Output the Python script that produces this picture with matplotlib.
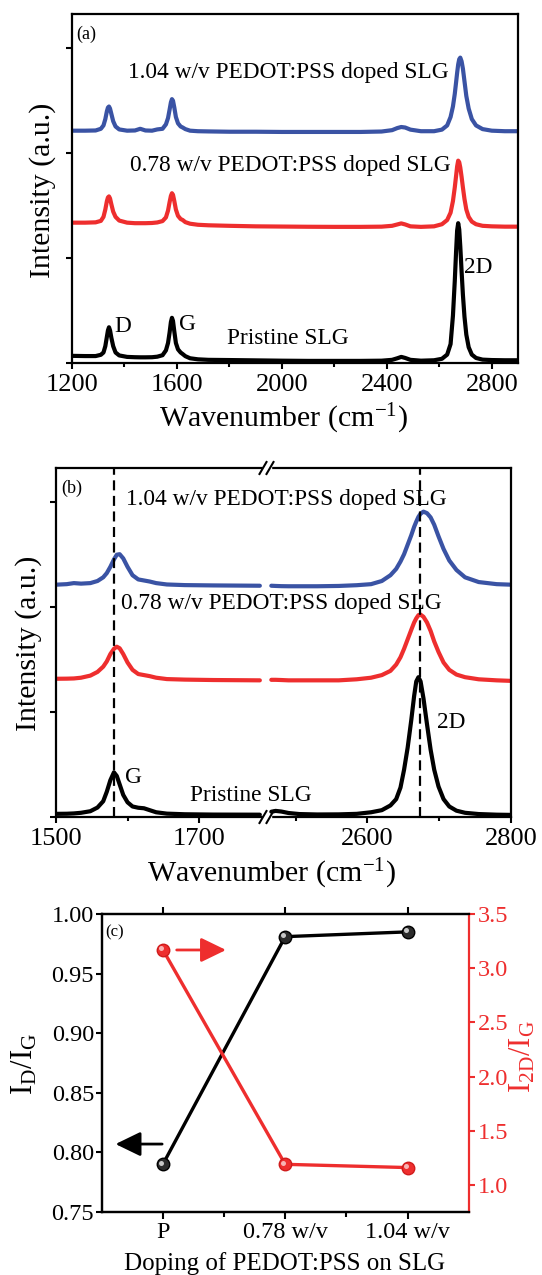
import numpy as np
import matplotlib
matplotlib.use('Agg')
import matplotlib.pyplot as plt
import matplotlib.transforms as mtransforms
from matplotlib.lines import Line2D
from matplotlib.patches import Rectangle
from matplotlib.ticker import FixedLocator, FormatStrFormatter

plt.rcParams['font.family'] = ['Liberation Serif', 'DejaVu Serif']
plt.rcParams['mathtext.fontset'] = 'custom'
plt.rcParams['mathtext.rm'] = 'Liberation Serif'
plt.rcParams['mathtext.it'] = 'Liberation Serif:italic'
plt.rcParams['mathtext.default'] = 'regular'

RED = '#EE2E2E'
BLUE = '#3A53A4'

# ---------------- panel (a): full Raman spectra ----------------
wn_a = [1200, 1250, 1290, 1310, 1320,
        1327, 1333, 1337, 1341, 1345,
        1350, 1357, 1366, 1380, 1410,
        1440, 1460, 1480, 1505, 1525,
        1545, 1558, 1566, 1572, 1577,
        1581, 1585, 1590, 1596, 1604,
        1614, 1622, 1632, 1650, 1680,
        1720, 1800, 1900, 2000, 2100,
        2200, 2300, 2380, 2420, 2440,
        2455, 2470, 2490, 2530, 2580,
        2610, 2630, 2643, 2652, 2659,
        2664, 2668, 2672, 2676, 2680,
        2685, 2690, 2696, 2703, 2712,
        2724, 2740, 2765, 2800, 2850,
        2900]
pristine_a = [0.068, 0.066, 0.066, 0.078, 0.10,
              0.16, 0.25, 0.31, 0.34, 0.31,
              0.24, 0.16, 0.10, 0.072, 0.058,
              0.055, 0.054, 0.054, 0.055, 0.060,
              0.074, 0.12, 0.19, 0.29, 0.39,
              0.43, 0.40, 0.30, 0.19, 0.13,
              0.10, 0.085, 0.065, 0.045, 0.035,
              0.030, 0.028, 0.025, 0.022, 0.020,
              0.020, 0.020, 0.022, 0.030, 0.045,
              0.058, 0.048, 0.030, 0.022, 0.026,
              0.040, 0.08, 0.18, 0.45, 0.78,
              1.06, 1.26, 1.33, 1.27, 1.11,
              0.87, 0.65, 0.44, 0.27, 0.15,
              0.08, 0.048, 0.032, 0.028, 0.026,
              0.026]
doped078_a = [1.335, 1.335, 1.338, 1.352, 1.39,
              1.46, 1.54, 1.575, 1.585, 1.565,
              1.51, 1.44, 1.39, 1.355, 1.335,
              1.33, 1.33, 1.33, 1.332, 1.337,
              1.35, 1.385, 1.45, 1.53, 1.59,
              1.615, 1.60, 1.54, 1.46, 1.40,
              1.37, 1.36, 1.34, 1.325, 1.315,
              1.31, 1.305, 1.30, 1.298, 1.296,
              1.295, 1.295, 1.297, 1.305, 1.318,
              1.328, 1.318, 1.30, 1.295, 1.30,
              1.32, 1.36, 1.43, 1.54, 1.67,
              1.78, 1.87, 1.925, 1.91, 1.86,
              1.77, 1.67, 1.56, 1.46, 1.39,
              1.345, 1.32, 1.305, 1.30, 1.297,
              1.297]
doped104_a = [2.21, 2.21, 2.212, 2.228, 2.26,
              2.32, 2.395, 2.43, 2.44, 2.42,
              2.37, 2.30, 2.25, 2.222, 2.21,
              2.212, 2.228, 2.212, 2.21, 2.222,
              2.228, 2.27, 2.33, 2.41, 2.48,
              2.51, 2.495, 2.43, 2.34, 2.28,
              2.25, 2.24, 2.225, 2.21, 2.205,
              2.203, 2.20, 2.20, 2.198, 2.198,
              2.198, 2.198, 2.202, 2.215, 2.235,
              2.245, 2.24, 2.22, 2.205, 2.205,
              2.22, 2.26, 2.34, 2.44, 2.56,
              2.67, 2.76, 2.84, 2.89, 2.905,
              2.87, 2.80, 2.68, 2.54, 2.42,
              2.32, 2.26, 2.225, 2.21, 2.205,
              2.205]

# ---------------- panel (b): zoom on G and 2D (broken axis) ----------------
wn_b_low = [1500, 1515, 1525, 1535, 1548, 1558, 1566, 1571, 1576, 1581,
            1585, 1589, 1594, 1600, 1607, 1615, 1623, 1631, 1640, 1655,
            1680, 1720, 1785]
pristine_b_low = [0.030, 0.031, 0.034, 0.040, 0.055, 0.09, 0.15, 0.24, 0.35, 0.425,
                  0.39, 0.31, 0.21, 0.14, 0.10, 0.088, 0.083, 0.065, 0.045, 0.032,
                  0.026, 0.023, 0.022]
doped078_b_low = [1.315, 1.316, 1.318, 1.325, 1.345, 1.38, 1.43, 1.48, 1.55, 1.60,
                  1.62, 1.605, 1.55, 1.47, 1.40, 1.36, 1.35, 1.34, 1.325, 1.312,
                  1.307, 1.303, 1.30]
doped104_b_low = [2.21, 2.215, 2.225, 2.22, 2.225, 2.245, 2.28, 2.32, 2.38, 2.45,
                  2.495, 2.50, 2.46, 2.38, 2.30, 2.26, 2.25, 2.24, 2.225, 2.212,
                  2.206, 2.203, 2.20]

wn_b_high = [2466, 2472, 2480, 2490, 2505, 2530, 2560, 2585, 2605, 2620,
             2632, 2640, 2646, 2651, 2656, 2661, 2665, 2668, 2671, 2674,
             2678, 2683, 2688, 2693, 2699, 2706, 2714, 2724, 2736, 2755,
             2780, 2800]
pristine_b_high = [0.050, 0.058, 0.052, 0.038, 0.028, 0.024, 0.025, 0.030, 0.045, 0.065,
                   0.11, 0.17, 0.28, 0.45, 0.66, 0.92, 1.15, 1.29, 1.33, 1.29,
                   1.13, 0.88, 0.64, 0.45, 0.29, 0.17, 0.10, 0.06, 0.04, 0.028,
                   0.022, 0.020]
doped078_b_high = [1.305, 1.305, 1.303, 1.30, 1.30, 1.30, 1.30, 1.31, 1.325, 1.35,
                   1.39, 1.45, 1.52, 1.60, 1.69, 1.78, 1.85, 1.89, 1.92, 1.925,
                   1.905, 1.85, 1.77, 1.67, 1.57, 1.47, 1.40, 1.355, 1.33, 1.31,
                   1.30, 1.295]
doped104_b_high = [2.20, 2.198, 2.196, 2.195, 2.195, 2.195, 2.198, 2.205, 2.215, 2.245,
                   2.30, 2.36, 2.43, 2.50, 2.59, 2.68, 2.76, 2.81, 2.855, 2.885,
                   2.905, 2.89, 2.85, 2.78, 2.67, 2.55, 2.44, 2.35, 2.28, 2.235,
                   2.215, 2.21]
g_line = 1581
twod_line = 2673

# ---------------- panel (c): intensity ratios ----------------
doping = ['P', '0.78 w/v', '1.04 w/v']
id_ig = [0.790, 0.981, 0.985]
i2d_ig = [3.17, 1.19, 1.16]

W, H = 542, 1275
fig = plt.figure(figsize=(W / 100, H / 100), dpi=100)


def px_axes(left, top, right, bottom):
    # axes rectangle from pixel edges (y measured from top)
    ax = fig.add_axes([left / W, 1 - bottom / H, (right - left) / W, (bottom - top) / H])
    ax.set_facecolor('none')
    return ax


def fig_text(x, y, s, **kw):
    fig.text(x / W, 1 - y / H, s, **kw)


def style_spectrum(ax):
    for s in ax.spines.values():
        s.set_linewidth(1.6)
    ax.tick_params(which='both', direction='out', width=1.5, labelsize=19, pad=3.5)
    ax.tick_params(which='major', length=4.5)
    ax.tick_params(which='minor', length=3)
    ax.tick_params(axis='y', labelleft=False)
    ax.set_ylim(0, 3.32)
    ax.yaxis.set_major_locator(FixedLocator([0, 1, 2, 3]))


line_kw = dict(lw=3.0, solid_joinstyle='round', solid_capstyle='round')
txt_kw = dict(fontsize=16.8, va='baseline', zorder=10)

# ---- (a) ----
ax_a = px_axes(72, 14, 518, 363)
style_spectrum(ax_a)
ax_a.plot(wn_a, pristine_a, color='black', **line_kw)
ax_a.plot(wn_a, doped078_a, color=RED, **line_kw)
ax_a.plot(wn_a, doped104_a, color=BLUE, **line_kw)
ax_a.set_xlim(1200, 2900)
ax_a.xaxis.set_major_locator(FixedLocator([1200, 1600, 2000, 2400, 2800]))
ax_a.xaxis.set_minor_locator(FixedLocator([1400, 1800, 2200, 2600]))
ax_a.text(1215, 3.08, '(a)', fontsize=13, va='baseline')
ax_a.text(2023, 2.71, '1.04 w/v PEDOT:PSS doped SLG', ha='center', **txt_kw)
ax_a.text(2033, 1.83, '0.78 w/v PEDOT:PSS doped SLG', ha='center', **txt_kw)
ax_a.text(1394, 0.295, 'D', ha='center', **txt_kw)
ax_a.text(1641, 0.31, 'G', ha='center', **txt_kw)
ax_a.text(2748, 0.857, '2D', ha='center', **txt_kw)
ax_a.text(2021, 0.18, 'Pristine SLG', ha='center', **txt_kw)
fig_text(283, 427, 'Wavenumber (cm$^{-1}$)', ha='center', va='baseline', fontsize=21.5)
fig_text(43, 190, 'Intensity (a.u.)', ha='center', va='center', rotation=90, fontsize=21.5)

# ---- (b) broken x axis ----
ax_bl = px_axes(56, 468, 267, 817)
ax_br = px_axes(267, 468, 511, 817)
for ax in (ax_bl, ax_br):
    style_spectrum(ax)
ax_bl.spines['right'].set_visible(False)
ax_br.spines['left'].set_visible(False)
ax_br.tick_params(axis='y', left=False)

ax_bl.plot(wn_b_low, pristine_b_low, color='black', **line_kw)
ax_bl.plot(wn_b_low, doped078_b_low, color=RED, **line_kw)
ax_bl.plot(wn_b_low, doped104_b_low, color=BLUE, **line_kw)
ax_br.plot(wn_b_high, pristine_b_high, color='black', **line_kw)
ax_br.plot(wn_b_high, doped078_b_high, color=RED, **line_kw)
ax_br.plot(wn_b_high, doped104_b_high, color=BLUE, **line_kw)
ax_bl.axvline(g_line, color='black', lw=1.6, dashes=(4.5, 2.5))
ax_br.axvline(twod_line, color='black', lw=1.6, dashes=(4.5, 2.5))

ax_bl.set_xlim(1500, 1795)
ax_br.set_xlim(2460, 2800)
ax_bl.xaxis.set_major_locator(FixedLocator([1500, 1700]))
ax_bl.xaxis.set_minor_locator(FixedLocator([1600]))
ax_br.xaxis.set_major_locator(FixedLocator([2600, 2800]))
ax_br.xaxis.set_minor_locator(FixedLocator([2500, 2700]))

# texts spanning the break go on the figure layer so nothing covers them
ax_bl.text(1508, 3.08, '(b)', fontsize=13, va='baseline')
fig_text(126, 505, '1.04 w/v PEDOT:PSS doped SLG', ha='left', **txt_kw)
fig_text(121, 609, '0.78 w/v PEDOT:PSS doped SLG', ha='left', **txt_kw)
ax_bl.text(1608, 0.32, 'G', ha='center', **txt_kw)
ax_br.text(2716, 0.845, '2D', ha='center', **txt_kw)
fig_text(251, 801, 'Pristine SLG', ha='center', **txt_kw)
fig_text(271, 882, 'Wavenumber (cm$^{-1}$)', ha='center', va='baseline', fontsize=21.5)
fig_text(28.5, 643, 'Intensity (a.u.)', ha='center', va='center', rotation=90, fontsize=21.5)

# break marks "//" on top and bottom spines
for yb in (468, 817):
    fig.add_artist(Rectangle((263 / W, 1 - (yb + 3) / H), 8 / W, 6 / H,
                             transform=fig.transFigure, color='white', zorder=5))
    for xb in (263, 270):
        fig.add_artist(Line2D([(xb - 3.5) / W, (xb + 3.5) / W],
                              [1 - (yb + 6) / H, 1 - (yb - 6) / H],
                              transform=fig.transFigure, color='black', lw=1.5, zorder=6))

# ---- (c) ratios ----
ax_c = px_axes(101.7, 914, 468.7, 1212)
ax_r = ax_c.twinx()
pos = np.arange(len(doping))

ax_c.plot(pos, id_ig, color='black', lw=2.4, zorder=3)
ax_c.plot(pos, id_ig, 'o', ms=9, mfc='#2b2b2b', mec='black', mew=1, zorder=4)
hl_c = mtransforms.offset_copy(ax_c.transData, fig=fig, x=-1.3, y=1.3, units='points')
ax_c.plot(pos, id_ig, 'o', ms=3.6, mfc='#c8c8c8', mec='none', transform=hl_c, zorder=5)

ax_r.plot(pos, i2d_ig, color=RED, lw=2.4, zorder=3)
ax_r.plot(pos, i2d_ig, 'o', ms=9, mfc=RED, mec='#d01c1c', mew=1, zorder=4)
hl_r = mtransforms.offset_copy(ax_r.transData, fig=fig, x=-1.3, y=1.3, units='points')
ax_r.plot(pos, i2d_ig, 'o', ms=3.6, mfc='#f8b4b4', mec='none', transform=hl_r, zorder=5)

ax_c.set_xlim(-0.5, 2.5)
ax_c.set_ylim(0.75, 1.0)
ax_r.set_ylim(0.75, 3.5)
ax_c.set_xticks(pos)
ax_c.set_xticklabels(doping)
ax_c.xaxis.set_minor_locator(FixedLocator([0.5, 1.5]))
ax_c.set_yticks(np.arange(0.75, 1.001, 0.05))
ax_c.yaxis.set_major_formatter(FormatStrFormatter('%.2f'))
ax_r.set_yticks(np.arange(1.0, 3.51, 0.5))
ax_r.yaxis.set_major_formatter(FormatStrFormatter('%.1f'))

for s in ax_c.spines.values():
    s.set_linewidth(1.6)
for s in ax_r.spines.values():
    s.set_linewidth(1.6)
ax_c.spines['right'].set_visible(False)
ax_r.spines['right'].set_color(RED)
ax_c.tick_params(which='both', direction='out', width=1.5, labelsize=17.5)
ax_c.tick_params(axis='x', which='major', length=5, pad=2, top=True)
ax_c.tick_params(axis='x', which='minor', length=3.5, top=False)
ax_c.tick_params(axis='y', length=4.5, pad=1)
ax_r.tick_params(axis='y', direction='out', width=1.5, length=4.5, pad=2,
                 labelsize=17.5, colors=RED)

# arrows pointing at the matching axis
arrow_style = '-|>,head_length=0.7,head_width=0.34'
ax_c.annotate('', xy=(-0.387, 0.807), xytext=(-0.006, 0.807),
              arrowprops=dict(arrowstyle=arrow_style, color='black', lw=2.0,
                              mutation_scale=22, shrinkA=0, shrinkB=0))
ax_r.annotate('', xy=(0.516, 3.168), xytext=(0.113, 3.168),
              arrowprops=dict(arrowstyle=arrow_style, color=RED, lw=2.0,
                              mutation_scale=22, shrinkA=0, shrinkB=0))

ax_c.text(-0.472, 0.981, '(c)', fontsize=12, va='baseline')
fig_text(25, 1064, 'I$_{D}$/I$_{G}$', ha='center', va='center', rotation=90, fontsize=22)
fig_text(523, 1057, 'I$_{2D}$/I$_{G}$', ha='center', va='center', rotation=90,
         fontsize=22, color=RED)
fig_text(284.6, 1270, 'Doping of PEDOT:PSS on SLG', ha='center', va='baseline', fontsize=18)

fig.savefig('out.png', dpi=100)
